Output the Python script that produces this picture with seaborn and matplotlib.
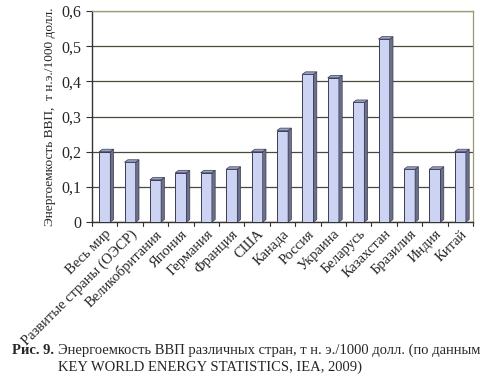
import matplotlib
matplotlib.use('Agg')
import matplotlib.pyplot as plt
from matplotlib.patches import Polygon
import seaborn as sns
import pandas as pd

countries = ['Весь мир', 'Развитые страны (ОЭСР)', 'Великобритания', 'Япония',
             'Германия', 'Франция', 'США', 'Канада', 'Россия', 'Украина',
             'Беларусь', 'Казахстан', 'Бразилия', 'Индия', 'Китай']
intensity = [0.20, 0.17, 0.12, 0.14, 0.14, 0.15, 0.20, 0.26, 0.42, 0.41,
             0.34, 0.52, 0.15, 0.15, 0.20]
y_ticks = [0, 0.1, 0.2, 0.3, 0.4, 0.5, 0.6]
y_tick_labels = ['0', '0,1', '0,2', '0,3', '0,4', '0,5', '0,6']

sns.set_style('white')
plt.rcParams['font.family'] = ['Liberation Serif', 'DejaVu Serif']

df = pd.DataFrame({'Страна': countries, 'Значение': intensity})

fig = plt.figure(figsize=(4.95, 3.83), dpi=100)
ax = fig.add_axes([92 / 495, 1 - 222 / 383, 381 / 495, 211 / 383])

sns.barplot(data=df, x='Страна', y='Значение', color='#cdd3f2', saturation=1,
            width=0.44, edgecolor='#3a3d55', linewidth=0.7, ax=ax, zorder=3)

# fake 3D faces built from the drawn bars
dx, dy = 0.13, 0.007
for bar in ax.patches:
    x0 = bar.get_x()
    x1 = x0 + bar.get_width()
    h = bar.get_height()
    side = Polygon([(x1, 0), (x1 + dx, dy), (x1 + dx, h + dy), (x1, h)],
                   closed=True, facecolor='#6b6f88', edgecolor='#3a3d55',
                   linewidth=0.5, zorder=3)
    top = Polygon([(x0, h), (x0 + dx, h + dy), (x1 + dx, h + dy), (x1, h)],
                  closed=True, facecolor='#9aa0bd', edgecolor='#3a3d55',
                  linewidth=0.5, zorder=3)
    ax.add_patch(side)
    ax.add_patch(top)

ax.set_ylim(0, 0.6)
ax.set_xlim(-0.5, len(countries) - 0.5)
ax.set_yticks(y_ticks)
ax.set_yticklabels(y_tick_labels, fontsize=11.5)
ax.yaxis.grid(True, color='#4a4a3a', linewidth=0.9, zorder=0)
ax.set_axisbelow(True)

ax.set_xticks(range(len(countries)))
ax.set_xticklabels(countries, rotation=45, ha='right', rotation_mode='anchor',
                   fontsize=10.5)
ax.tick_params(axis='x', length=0, pad=4)
ax.tick_params(axis='y', length=4, direction='out', left=True, color='#333333')
# small ticks between categories
for i in range(len(countries) + 1):
    ax.plot([i - 0.5, i - 0.5], [0, -0.01], color='#333333', linewidth=0.8,
            clip_on=False)

ax.set_xlabel('')
ax.set_ylabel('Энергоемкость ВВП,  т н.э./1000 долл.', fontsize=9.6, labelpad=4)

for s in ['top', 'right']:
    ax.spines[s].set_color('#9a9a70')
    ax.spines[s].set_linewidth(0.9)
for s in ['left', 'bottom']:
    ax.spines[s].set_color('#333333')
    ax.spines[s].set_linewidth(1.0)

fig.text(12 / 495, 1 - 350 / 383, 'Рис. 9.', fontsize=10.5, fontweight='bold',
         va='center')
fig.text(58 / 495, 1 - 350 / 383,
         'Энергоемкость ВВП различных стран, т н. э./1000 долл. (по данным',
         fontsize=10.5, va='center')
fig.text(58 / 495, 1 - 367 / 383, 'KEY WORLD ENERGY STATISTICS, IEA, 2009)',
         fontsize=10.5, va='center')

fig.savefig('out.png', dpi=100)
